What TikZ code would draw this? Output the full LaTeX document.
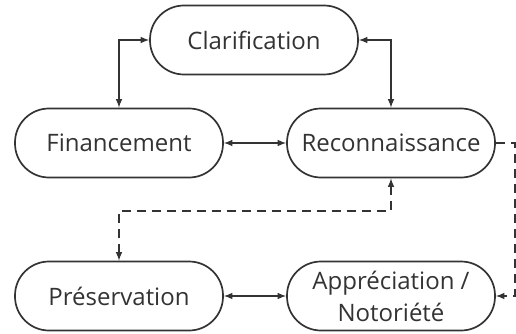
\documentclass[tikz,border=0pt]{standalone}
\usepackage{fontspec}
\setmainfont{Open Sans}
\usepackage{tikz}
\usetikzlibrary{arrows,positioning}
\definecolor{ink}{HTML}{333333}

\begin{document}
\begin{tikzpicture}[
    >=latex,
    every node/.style={font=\fontsize{24}{32}\selectfont,text=ink},
    box/.style={draw=ink,line width=1.7pt,rounded corners=34pt,
      minimum width=208pt,minimum height=69pt,align=center,inner sep=1pt},
    link/.style={ink,line width=1.9pt},
    dlink/.style={link,dash pattern=on 9pt off 6pt}]
      \useasboundingbox (0,0) rectangle (516pt,-334pt);

      \node[box] (CL) at (254pt,-40pt) {Clarification};
      \node[box] (FI) at (119pt,-143pt) {Financement};
      \node[box] (RE) at (391pt,-143pt) {Reconnaissance};
      \node[box] (PR) at (119pt,-296pt) {Préservation};
      \node[box] (AP) at (391pt,-296pt) {Appréciation /\\Notoriété};

      \draw[link,<->] (CL.west) -| (FI.north);
      \draw[link,<->] (CL.east) -| (RE.north);
      \draw[link,<->] (FI) -- (RE);
      \draw[link,<->] (PR) -- (AP);

      \draw[dlink,->] (RE.east) -- ++(19pt,0) |- (AP.east);
      \draw[dlink,<->] (PR.north) -- ++(0,50pt) -| (RE.south);
    \end{tikzpicture}
\end{document}
